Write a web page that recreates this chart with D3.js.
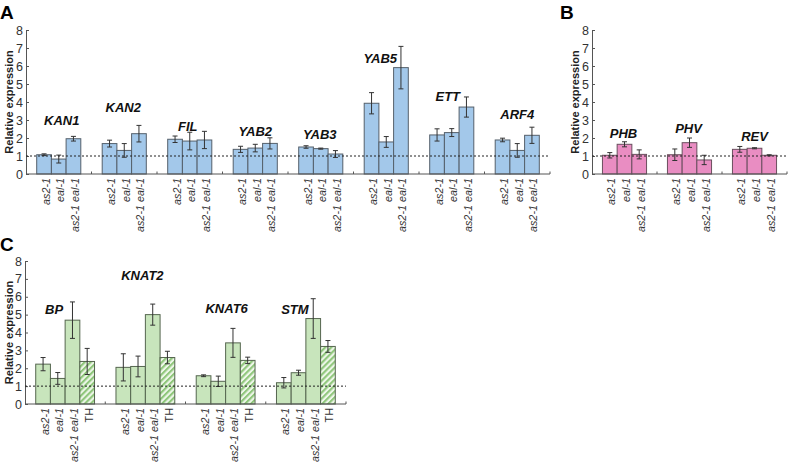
<!DOCTYPE html>
<html>
<head>
<meta charset="utf-8">
<script src="https://cdn.jsdelivr.net/npm/d3@7/dist/d3.min.js"></script>
<style>
  html, body { margin: 0; padding: 0; background: #fff; }
  svg { display: block; font-family: "Liberation Sans", Arial, Helvetica, sans-serif; }
</style>
</head>
<body>
<svg id="chart" width="788" height="463"></svg>
<script>
// ---------- DATA ----------
const yTicks = [0, 1, 2, 3, 4, 5, 6, 7, 8];

const samplesAB = ["as2-1", "eal-1", "as2-1 eal-1"];
const samplesC = ["as2-1", "eal-1", "as2-1 eal-1", "TH"];

const genesA = ["KAN1", "KAN2", "FIL", "YAB2", "YAB3", "YAB5", "ETT", "ARF4"];
const valuesA = [
  [1.07, 0.83, 1.96], [1.69, 1.31, 2.24], [1.93, 1.83, 1.89], [1.37, 1.44, 1.70],
  [1.50, 1.41, 1.11], [3.93, 1.78, 5.91], [2.17, 2.30, 3.72], [1.89, 1.31, 2.15]
];
const errorsA = [
  [0.05, 0.22, 0.13], [0.19, 0.38, 0.46], [0.18, 0.49, 0.48], [0.17, 0.21, 0.31],
  [0.07, 0.03, 0.19], [0.59, 0.30, 1.18], [0.34, 0.22, 0.56], [0.10, 0.38, 0.45]
];
const geneLabelLevelA = [2.97, 3.67, 2.65, 2.35, 2.18, 6.44, 4.32, 3.32];

const genesB = ["PHB", "PHV", "REV"];
const valuesB = [[1.04, 1.65, 1.09], [1.07, 1.74, 0.78], [1.37, 1.43, 1.04]];
const errorsB = [[0.15, 0.14, 0.25], [0.32, 0.26, 0.26], [0.16, 0.03, 0.03]];
const geneLabelLevelB = [2.26, 2.54, 2.07];

const genesC = ["BP", "KNAT2", "KNAT6", "STM"];
const valuesC = [
  [2.23, 1.43, 4.69, 2.38], [2.05, 2.10, 5.00, 2.60],
  [1.58, 1.27, 3.42, 2.44], [1.19, 1.75, 4.78, 3.22]
];
const errorsC = [
  [0.37, 0.33, 1.02, 0.73], [0.76, 0.58, 0.59, 0.35],
  [0.05, 0.29, 0.81, 0.18], [0.29, 0.14, 1.11, 0.33]
];
const geneLabelLevelC = [5.31, 7.20, 5.35, 5.31];

// ---------- DRAWING ----------
const svg = d3.select("#chart");
const defs = svg.append("defs");
const pat = defs.append("pattern")
  .attr("id", "hatch").attr("patternUnits", "userSpaceOnUse")
  .attr("width", 4.2).attr("height", 4.2)
  .attr("patternTransform", "rotate(45)");
pat.append("rect").attr("width", 4.2).attr("height", 4.2).attr("fill", "#eef7e9");
pat.append("rect").attr("width", 2.1).attr("height", 4.2).attr("fill", "#8fc67b");

function drawPanel(cfg) {
  const g = svg.append("g");
  const y = d3.scaleLinear().domain([0, 8]).range([cfg.yBottom, cfg.yTop]);
  const xg = d3.scaleBand().domain(cfg.genes).range([cfg.xLeft, cfg.xRight]).padding(0);
  const bw = 14.7;
  const n = cfg.samples.length;
  const xs = d3.scaleBand().domain(cfg.samples)
    .range([(xg.bandwidth() - n * bw) / 2, (xg.bandwidth() + n * bw) / 2]).padding(0);

  // y axis
  const ax = g.append("g").attr("transform", `translate(${cfg.xLeft},0)`)
    .call(d3.axisLeft(y).tickValues(yTicks).tickFormat(d3.format("d"))
      .tickSizeInner(-3).tickSizeOuter(0).tickPadding(3));
  ax.select(".domain").attr("stroke", "#555");
  ax.selectAll(".tick line").attr("stroke", "#555");
  ax.selectAll(".tick text").attr("font-size", 12.5).attr("fill", "#333")
    .attr("font-family", "Liberation Sans, Arial, sans-serif");

  // y title
  g.append("text")
    .attr("transform", `translate(${cfg.titleX},${(y(0) + y(8)) / 2}) rotate(-90)`)
    .attr("text-anchor", "middle").attr("dominant-baseline", "central")
    .attr("font-size", 11).attr("font-weight", "bold").attr("fill", "#222")
    .text("Relative expression");

  // bars
  cfg.genes.forEach((gene, gi) => {
    const gx = xg(gene);
    cfg.samples.forEach((s, si) => {
      const v = cfg.values[gi][si];
      const e = cfg.errors[gi][si];
      const bx = gx + xs(s);
      const fill = s === "TH" ? "url(#hatch)" : cfg.fill;
      g.append("rect")
        .attr("x", bx).attr("y", y(v))
        .attr("width", xs.bandwidth()).attr("height", y(0) - y(v))
        .attr("fill", fill).attr("stroke", cfg.stroke).attr("stroke-width", 1);
      const cx = bx + xs.bandwidth() / 2;
      g.append("line").attr("x1", cx).attr("x2", cx)
        .attr("y1", y(v - e)).attr("y2", y(v + e))
        .attr("stroke", "#333").attr("stroke-width", 1);
      [v - e, v + e].forEach(t => {
        g.append("line").attr("x1", cx - 2.5).attr("x2", cx + 2.5)
          .attr("y1", y(t)).attr("y2", y(t))
          .attr("stroke", "#333").attr("stroke-width", 1);
      });
      // category label
      g.append("text")
        .attr("transform", `translate(${cx + 1.5},${y(0) + 4}) rotate(-90)`)
        .attr("text-anchor", "end").attr("dominant-baseline", "central")
        .attr("font-size", 10.8).attr("fill", "#333")
        .attr("font-style", s === "TH" ? "normal" : "italic")
        .text(s);
    });
    // gene label
    g.append("text")
      .attr("x", gx + xg.bandwidth() / 2 + cfg.labelDx[gi])
      .attr("y", y(cfg.labelLevel[gi]))
      .attr("text-anchor", "middle").attr("dominant-baseline", "central")
      .attr("font-size", 13).attr("font-weight", "bold").attr("font-style", "italic")
      .attr("fill", "#111")
      .text(gene);
  });

  // dotted reference line at 1
  g.append("line").attr("x1", cfg.xLeft).attr("x2", cfg.xRight)
    .attr("y1", y(1)).attr("y2", y(1))
    .attr("stroke", "#222").attr("stroke-width", 1).attr("stroke-dasharray", "2,2");

  // x axis baseline with ticks at group boundaries
  g.append("line").attr("x1", cfg.xLeft).attr("x2", cfg.xRight)
    .attr("y1", y(0)).attr("y2", y(0)).attr("stroke", "#555").attr("stroke-width", 1);
  cfg.genes.forEach(gene => {
    const bx = xg(gene) + xg.bandwidth();
    g.append("line").attr("x1", bx).attr("x2", bx)
      .attr("y1", y(0)).attr("y2", y(0) - 2.5).attr("stroke", "#555");
  });

  // panel letter
  svg.append("text").attr("x", cfg.letterX).attr("y", cfg.letterY)
    .attr("font-size", 19).attr("font-weight", "bold").attr("fill", "#000")
    .text(cfg.letter);
}

drawPanel({
  genes: genesA, samples: samplesAB, values: valuesA, errors: errorsA,
  labelLevel: geneLabelLevelA, labelDx: [3, -1, -2, 0, -1, -6, -4, 0],
  xLeft: 26, xRight: 550, yBottom: 174, yTop: 30, titleX: 9,
  fill: "#a3c8ea", stroke: "#55606b", letter: "A", letterX: 0, letterY: 19
});
drawPanel({
  genes: genesB, samples: samplesAB, values: valuesB, errors: errorsB,
  labelLevel: geneLabelLevelB, labelDx: [-1, -1, 0],
  xLeft: 592, xRight: 787, yBottom: 174, yTop: 30, titleX: 575,
  fill: "#e98dc2", stroke: "#6a4f5e", letter: "B", letterX: 560, letterY: 19
});
drawPanel({
  genes: genesC, samples: samplesC, values: valuesC, errors: errorsC,
  labelLevel: geneLabelLevelC, labelDx: [-11, -3, 1, -11],
  xLeft: 25, xRight: 346, yBottom: 404, yTop: 261, titleX: 9,
  fill: "#c8e5bc", stroke: "#55664f", letter: "C", letterX: 0, letterY: 251
});
</script>
</body>
</html>
